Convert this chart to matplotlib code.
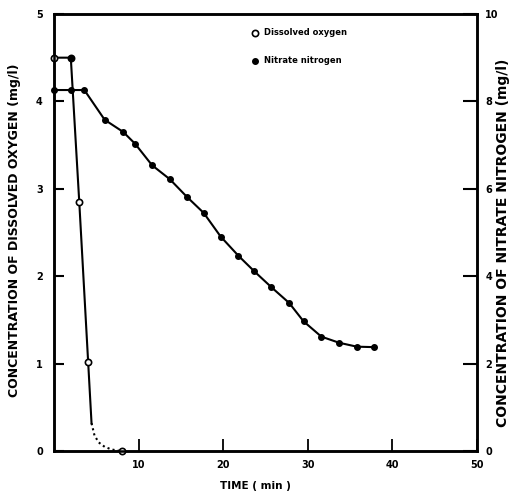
import numpy as np
import matplotlib
matplotlib.use('Agg')
from matplotlib import pyplot as plt

#----------------------------
# data
#----------------------------

# dissolved oxygen (left axis, mg/l) - open circles
do_time = [0, 2, 3.0, 4.05, 8.0]
do_conc = [4.5, 4.5, 2.85, 1.02, 0.0]
do_filled = [False, True, False, False, False]

# solid part of the oxygen curve, then the dotted tail
do_line_time = [0, 2, 3.0, 4.05, 4.45]
do_line_conc = [4.5, 4.5, 2.85, 1.02, 0.32]
do_tail_time = [4.45, 4.8, 5.3, 6.0, 6.8, 8.0]
do_tail_conc = [0.32, 0.18, 0.10, 0.05, 0.02, 0.0]

# nitrate nitrogen (right axis, mg/l) - filled dots
no3_time = [0, 2, 3.6, 6.0, 8.2, 9.6, 11.6, 13.7, 15.7, 17.7, 19.7,
            21.8, 23.7, 25.7, 27.8, 29.5, 31.6, 33.7, 35.8, 37.8]
no3_conc = [8.26, 8.26, 8.26, 7.58, 7.30, 7.03, 6.54, 6.22, 5.82, 5.45, 4.91,
            4.47, 4.11, 3.75, 3.39, 2.97, 2.62, 2.48, 2.39, 2.38]

x_ticks = [10, 20, 30, 40, 50]
left_ticks = [0, 1, 2, 3, 4, 5]
right_ticks = [0, 2, 4, 6, 8, 10]

#----------------------------
# figure
#----------------------------

fig = plt.figure(figsize=(5.13, 4.98), dpi=100)
ax = fig.add_axes([0.105, 0.094, 0.825, 0.878])
ax2 = ax.twinx()

bold = dict(fontweight='bold', fontsize=7)

# oxygen curve
ax.plot(do_line_time, do_line_conc, color='black', lw=1.5, zorder=3)
ax.plot(do_tail_time, do_tail_conc, color='black', lw=1.5, ls=(0, (1, 1.5)), zorder=3)
for t, c, f in zip(do_time, do_conc, do_filled):
    ax.plot(t, c, 'o', ms=4.5, mec='black', mew=1.2,
            mfc='black' if f else 'white', zorder=5, clip_on=False)

# nitrate curve
ax2.plot(no3_time, no3_conc, color='black', lw=1.5, marker='o', ms=4,
         mfc='black', mec='black', zorder=4, clip_on=False)

ax.set_xlim(0, 50)
ax.set_ylim(0, 5)
ax2.set_ylim(0, 10)

ax.set_xticks(x_ticks)
ax.set_xticklabels([str(v) for v in x_ticks], **bold)
ax.set_yticks(left_ticks)
ax.set_yticklabels([str(v) for v in left_ticks], **bold)
ax2.set_yticks(right_ticks)
ax2.set_yticklabels([str(v) for v in right_ticks], **bold)

ax.tick_params(axis='x', direction='in', length=9, width=1.3, pad=6)
ax.tick_params(axis='y', direction='in', length=7, width=1.5, pad=8)
ax2.tick_params(axis='y', direction='in', length=10, width=1.5, pad=6)

for a in (ax, ax2):
    for s in a.spines.values():
        s.set_linewidth(1.8)

# axis titles placed where they sit on the scan
fig.text(255 / 513, 1 - 486 / 498, 'TIME ( min )', fontweight='bold',
         fontsize=7.5, ha='center', va='center')
fig.text(15 / 513, 1 - 230 / 498, 'CONCENTRATION OF DISSOLVED OXYGEN (mg/l)',
         fontweight='bold', fontsize=9, rotation=90, ha='center', va='center')
fig.text(503 / 513, 1 - 243 / 498, 'CONCENTRATION OF NITRATE NITROGEN (mg/l)',
         fontweight='bold', fontsize=10, rotation=90, ha='center', va='center')

# legend written in by hand like the original
ax.plot(0.475, 0.957, 'o', ms=4.5, mfc='white', mec='black', mew=1.2,
        transform=ax.transAxes)
ax.text(0.497, 0.957, 'Dissolved oxygen', transform=ax.transAxes,
        va='center', fontsize=6, fontweight='bold')
ax.plot(0.475, 0.893, 'o', ms=4, mfc='black', mec='black',
        transform=ax.transAxes)
ax.text(0.497, 0.893, 'Nitrate nitrogen', transform=ax.transAxes,
        va='center', fontsize=6, fontweight='bold')

plt.savefig('out.png', dpi=100)
